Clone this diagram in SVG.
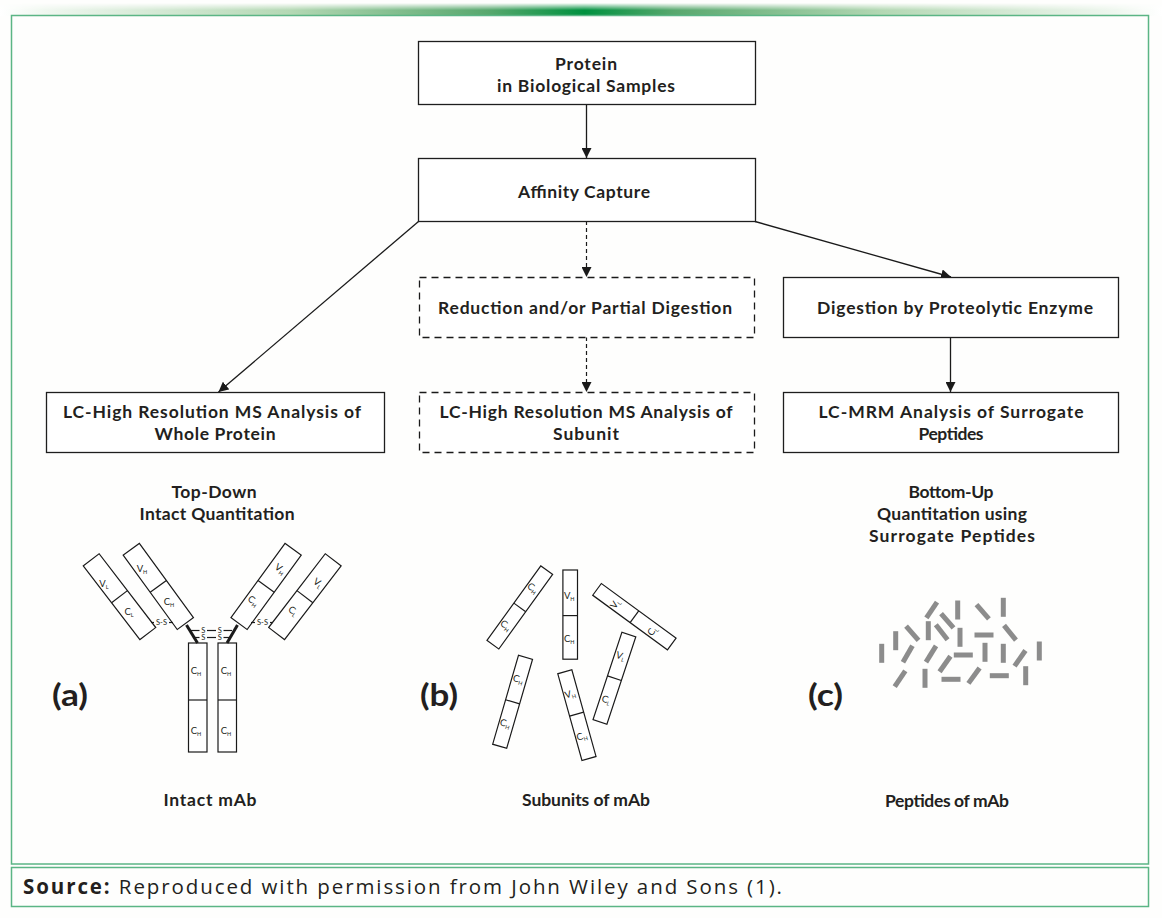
<svg xmlns="http://www.w3.org/2000/svg" width="1162" height="918" viewBox="0 0 1162 918">
<defs>
<style>
.box{fill:#ffffff;stroke:#1e1e1e;stroke-width:1.3}
.dbox{fill:#ffffff;stroke:#1a1a1a;stroke-width:1.3;stroke-dasharray:7 5}
.bt{font-family:Lato,"Open Sans",sans-serif;font-weight:700;font-size:17.5px;fill:#231f20;text-anchor:middle}
.big{font-family:Lato,"Open Sans",sans-serif;font-weight:700;font-size:30px;fill:#231f20}
.con{stroke:#1a1a1a;stroke-width:1.3;fill:none}
.dcon{stroke:#1a1a1a;stroke-width:1.2;fill:none;stroke-dasharray:4 3}
.dom{fill:#ffffff;stroke:#1a1a1a;stroke-width:1.2}
.dl{stroke:#1a1a1a;stroke-width:1.2}
.lab{font-family:Lato,"DejaVu Sans",sans-serif;font-size:9.5px;fill:#231f20;text-anchor:middle}
.sub{font-size:5.5px}
.ss{font-family:Lato,"DejaVu Sans",sans-serif;font-size:7.5px;fill:#231f20;text-anchor:middle}
.pep{fill:#8c8c8c}
.frame{fill:none;stroke:#5bb585;stroke-width:1.5}
</style>
<marker id="ah" viewBox="0 0 10 10" refX="10" refY="5" markerWidth="10" markerHeight="10" markerUnits="userSpaceOnUse" orient="auto">
<path d="M0,0 L10,5 L0,10 z" fill="#1a1a1a"/>
</marker>
<linearGradient id="topbar" x1="0" y1="0" x2="1" y2="0">
<stop offset="0" stop-color="#ffffff"/>
<stop offset="0.04" stop-color="#eff7ef"/>
<stop offset="0.25" stop-color="#b4d8b4"/>
<stop offset="0.42" stop-color="#58a86e"/>
<stop offset="0.503" stop-color="#00913f"/>
<stop offset="0.58" stop-color="#58a86e"/>
<stop offset="0.76" stop-color="#b4d8b4"/>
<stop offset="0.96" stop-color="#eff7ef"/>
<stop offset="1" stop-color="#ffffff"/>
</linearGradient>
<linearGradient id="vfade" x1="0" y1="0" x2="0" y2="1">
<stop offset="0" stop-color="#000000"/>
<stop offset="0.55" stop-color="#ffffff"/>
<stop offset="1" stop-color="#ffffff"/>
</linearGradient>
<mask id="barmask" maskUnits="userSpaceOnUse" x="0" y="0" width="1162" height="20">
<rect x="0" y="3" width="1162" height="13" fill="url(#vfade)"/>
</mask>
</defs>
<rect x="0" y="0" width="1162" height="918" fill="#fefefd"/>
<rect x="0" y="3" width="1162" height="13" fill="url(#topbar)" mask="url(#barmask)"/>
<rect class="frame" x="11.5" y="15.5" width="1137" height="848.5"/>
<rect class="frame" x="11.5" y="867.5" width="1137" height="39"/>

<g id="connectors">
<line class="con" x1="586.5" y1="104" x2="586.5" y2="158" marker-end="url(#ah)"/>
<line class="dcon" x1="586.5" y1="221" x2="586.5" y2="277" marker-end="url(#ah)"/>
<line class="dcon" x1="586.5" y1="337" x2="586.5" y2="392" marker-end="url(#ah)"/>
<line class="con" x1="418.5" y1="221.5" x2="218.5" y2="392" marker-end="url(#ah)"/>
<line class="con" x1="755" y1="221.5" x2="951" y2="277" marker-end="url(#ah)"/>
<line class="con" x1="950.5" y1="337" x2="950.5" y2="392" marker-end="url(#ah)"/>
</g>

<g id="node-protein">
<rect class="box" x="418.5" y="41.5" width="337" height="63"/>
<text class="bt" x="586" y="70" textLength="62" lengthAdjust="spacing">Protein</text>
<text class="bt" x="586" y="92" textLength="178" lengthAdjust="spacing">in Biological Samples</text>
</g>
<g id="node-affinity">
<rect class="box" x="418.5" y="158.5" width="337" height="63"/>
<text class="bt" x="584" y="198" textLength="132" lengthAdjust="spacing">Affinity Capture</text>
</g>
<g id="node-reduction">
<rect class="dbox" x="419.5" y="277.5" width="335" height="60"/>
<text class="bt" x="585" y="314" textLength="294" lengthAdjust="spacing">Reduction and/or Partial Digestion</text>
</g>
<g id="node-subunit-ms">
<rect class="dbox" x="419.5" y="392.5" width="335" height="60"/>
<text class="bt" x="586" y="418" textLength="293" lengthAdjust="spacing">LC-High Resolution MS Analysis of</text>
<text class="bt" x="586" y="440" textLength="66" lengthAdjust="spacing">Subunit</text>
</g>
<g id="node-digestion">
<rect class="box" x="783.5" y="277.5" width="335" height="60"/>
<text class="bt" x="955" y="314" textLength="276" lengthAdjust="spacing">Digestion by Proteolytic Enzyme</text>
</g>
<g id="node-mrm">
<rect class="box" x="783.5" y="392.5" width="335" height="60"/>
<text class="bt" x="951" y="418" textLength="265" lengthAdjust="spacing">LC-MRM Analysis of Surrogate</text>
<text class="bt" x="951" y="440" textLength="65" lengthAdjust="spacing">Peptides</text>
</g>
<g id="node-whole-ms">
<rect class="box" x="46.5" y="392.5" width="338" height="60"/>
<text class="bt" x="212" y="418" textLength="298" lengthAdjust="spacing">LC-High Resolution MS Analysis of</text>
<text class="bt" x="215" y="440" textLength="121" lengthAdjust="spacing">Whole Protein</text>
</g>

<g id="captions">
<text class="bt" x="214" y="498" textLength="85" lengthAdjust="spacing">Top-Down</text>
<text class="bt" x="217" y="520" textLength="155" lengthAdjust="spacing">Intact Quantitation</text>
<text class="bt" x="951" y="498" textLength="85" lengthAdjust="spacing">Bottom-Up</text>
<text class="bt" x="952" y="520" textLength="150" lengthAdjust="spacing">Quantitation using</text>
<text class="bt" x="952" y="542" textLength="166" lengthAdjust="spacing">Surrogate Peptides</text>
<text class="big" x="52" y="706" textLength="36" lengthAdjust="spacingAndGlyphs">(a)</text>
<text class="big" x="420" y="706" textLength="38" lengthAdjust="spacingAndGlyphs">(b)</text>
<text class="big" x="808" y="706" textLength="35" lengthAdjust="spacingAndGlyphs">(c)</text>
<text class="bt" x="210" y="806" textLength="93" lengthAdjust="spacing">Intact mAb</text>
<text class="bt" x="586" y="806" textLength="128" lengthAdjust="spacing">Subunits of mAb</text>
<text class="bt" x="947" y="807" textLength="124" lengthAdjust="spacing">Peptides of mAb</text>
</g>

<g id="intact-mab">
<rect class="dom" x="188.5" y="643" width="18.5" height="109"/>
<line class="dl" x1="188.5" y1="700" x2="207" y2="700"/>
<rect class="dom" x="218" y="643" width="18.5" height="109"/>
<line class="dl" x1="218" y1="700" x2="236.5" y2="700"/>
<text class="lab" x="196" y="674">C<tspan class="sub" dy="2">H</tspan></text>
<text class="lab" x="196" y="734">C<tspan class="sub" dy="2">H</tspan></text>
<text class="lab" x="226" y="674">C<tspan class="sub" dy="2">H</tspan></text>
<text class="lab" x="226" y="734">C<tspan class="sub" dy="2">H</tspan></text>
<line x1="186.5" y1="625" x2="197.5" y2="643" stroke="#1a1a1a" stroke-width="3"/>
<line x1="237.5" y1="625" x2="227" y2="643" stroke="#1a1a1a" stroke-width="3"/>
<line class="dl" x1="191" y1="630.5" x2="199.5" y2="630.5"/>
<line class="dl" x1="207" y1="630.5" x2="216" y2="630.5"/>
<line class="dl" x1="223.5" y1="630.5" x2="232" y2="630.5"/>
<line class="dl" x1="193" y1="637.5" x2="199.5" y2="637.5"/>
<line class="dl" x1="207" y1="637.5" x2="216" y2="637.5"/>
<line class="dl" x1="223.5" y1="637.5" x2="230" y2="637.5"/>
<text class="ss"><tspan x="203.3" y="633.2">S</tspan><tspan x="219.8" y="633.2">S</tspan><tspan x="203.3" y="640.2">S</tspan><tspan x="219.8" y="640.2">S</tspan></text>
<g transform="translate(119.5 596.7) rotate(-37.5)">
<rect class="dom" x="-10" y="-46.5" width="20" height="93"/>
<line class="dl" x1="-10" y1="0" x2="10" y2="0"/>
</g>
<g transform="translate(158.3 586.4) rotate(-36)">
<rect class="dom" x="-10" y="-46" width="20" height="92"/>
<line class="dl" x1="-10" y1="0" x2="10" y2="0"/>
</g>
<text class="lab" x="104" y="587">V<tspan class="sub" dy="2">L</tspan></text>
<text class="lab" x="129" y="615">C<tspan class="sub" dy="2">L</tspan></text>
<text class="lab" x="142" y="572">V<tspan class="sub" dy="2">H</tspan></text>
<text class="lab" x="169" y="605">C<tspan class="sub" dy="2">H</tspan></text>
<line class="dl" x1="151" y1="622.5" x2="154" y2="622.5"/>
<line class="dl" x1="169" y1="622.5" x2="173" y2="622.5"/>
<text class="ss" x="161.5" y="625.2">S-S</text>
<g transform="translate(304.9 596.7) rotate(37.5)">
<rect class="dom" x="-10" y="-46.5" width="20" height="93"/>
<line class="dl" x1="-10" y1="0" x2="10" y2="0"/>
</g>
<g transform="translate(266.1 586.4) rotate(36)">
<rect class="dom" x="-10" y="-46" width="20" height="92"/>
<line class="dl" x1="-10" y1="0" x2="10" y2="0"/>
</g>
<text class="lab" transform="translate(318 583) rotate(36)" x="0" y="3">V<tspan class="sub" dy="2">L</tspan></text>
<text class="lab" transform="translate(293 611) rotate(36)" x="0" y="3">C<tspan class="sub" dy="2">L</tspan></text>
<text class="lab" transform="translate(280 569) rotate(36)" x="0" y="3">V<tspan class="sub" dy="2">H</tspan></text>
<text class="lab" transform="translate(253 601) rotate(36)" x="0" y="3">C<tspan class="sub" dy="2">H</tspan></text>
<line class="dl" x1="251" y1="622.5" x2="255" y2="622.5"/>
<line class="dl" x1="270" y1="622.5" x2="273" y2="622.5"/>
<text class="ss" x="262.5" y="625.2">S-S</text>
</g>

<g id="subunits">
<g transform="translate(519.8 607.4) rotate(35.8)">
<rect class="dom" x="-7.3" y="-46" width="14.6" height="92"/>
<line class="dl" x1="-7.3" y1="0" x2="7.3" y2="0"/>
<text class="lab" x="-1" y="-20">C<tspan class="sub" dy="2">H</tspan></text>
<text class="lab" x="-1" y="26">C<tspan class="sub" dy="2">H</tspan></text>
</g>
<g transform="translate(570.2 614.6)">
<rect class="dom" x="-7.3" y="-44.6" width="14.6" height="89.2"/>
<line class="dl" x1="-7.3" y1="1" x2="7.3" y2="1"/>
<text class="lab" x="-1" y="-16">V<tspan class="sub" dy="2">H</tspan></text>
<text class="lab" x="-1" y="27">C<tspan class="sub" dy="2">H</tspan></text>
</g>
<g transform="translate(634.4 616.7) rotate(-53.8)">
<rect class="dom" x="-7.3" y="-46.3" width="14.6" height="92.6"/>
<line class="dl" x1="-7.3" y1="0" x2="7.3" y2="0"/>
<text class="lab" x="-1" y="-20">V<tspan class="sub" dy="2">L</tspan></text>
<text class="lab" x="-1" y="26">C<tspan class="sub" dy="2">L</tspan></text>
</g>
<g transform="translate(512.6 701.8) rotate(16.2)">
<rect class="dom" x="-7.3" y="-46.3" width="14.6" height="92.6"/>
<line class="dl" x1="-7.3" y1="0" x2="7.3" y2="0"/>
<text class="lab" x="-1" y="-20">C<tspan class="sub" dy="2">H</tspan></text>
<text class="lab" x="-1" y="26">C<tspan class="sub" dy="2">H</tspan></text>
</g>
<g transform="translate(576.9 715.1) rotate(-15.6)">
<rect class="dom" x="-7.3" y="-45" width="14.6" height="90"/>
<line class="dl" x1="-7.3" y1="-1" x2="7.3" y2="-1"/>
<text class="lab" x="-1" y="-19">V<tspan class="sub" dy="2">H</tspan></text>
<text class="lab" x="-1" y="25">C<tspan class="sub" dy="2">H</tspan></text>
</g>
<g transform="translate(614.4 678.2) rotate(18.3)">
<rect class="dom" x="-7.3" y="-46" width="14.6" height="92"/>
<line class="dl" x1="-7.3" y1="0" x2="7.3" y2="0"/>
<text class="lab" x="-1" y="-20">V<tspan class="sub" dy="2">L</tspan></text>
<text class="lab" x="-1" y="26">C<tspan class="sub" dy="2">L</tspan></text>
</g>
</g>

<g id="peptides">
<rect class="pep" x="-2.5" y="-9.5" width="5" height="19" transform="translate(931.7 610) rotate(34)"/>
<rect class="pep" x="-2.5" y="-9.5" width="5" height="19" transform="translate(957.7 610)"/>
<rect class="pep" x="-2.5" y="-9.5" width="5" height="19" transform="translate(982.7 611.7) rotate(-41)"/>
<rect class="pep" x="-2.5" y="-9.5" width="5" height="19" transform="translate(1003.3 607.3)"/>
<rect class="pep" x="-2.5" y="-9.5" width="5" height="19" transform="translate(947.3 620.7) rotate(-41)"/>
<rect class="pep" x="-2.5" y="-9.5" width="5" height="19" transform="translate(912.3 633.3) rotate(-41)"/>
<rect class="pep" x="-2.5" y="-9.5" width="5" height="19" transform="translate(928.3 630.7)"/>
<rect class="pep" x="-2.5" y="-9.5" width="5" height="19" transform="translate(941.7 632.3) rotate(-38)"/>
<rect class="pep" x="-2.5" y="-9.5" width="5" height="19" transform="translate(960 637.3)"/>
<rect class="pep" x="-2.5" y="-9.5" width="5" height="19" transform="translate(984 635) rotate(90)"/>
<rect class="pep" x="-2.5" y="-9.5" width="5" height="19" transform="translate(1010 632.7) rotate(-39)"/>
<rect class="pep" x="-2.5" y="-9.5" width="5" height="19" transform="translate(895.7 640.7)"/>
<rect class="pep" x="-2.5" y="-9.5" width="5" height="19" transform="translate(881.7 653.3)"/>
<rect class="pep" x="-2.5" y="-9.5" width="5" height="19" transform="translate(907.7 654) rotate(30)"/>
<rect class="pep" x="-2.5" y="-9.5" width="5" height="19" transform="translate(931 654) rotate(32)"/>
<rect class="pep" x="-2.5" y="-9.5" width="5" height="19" transform="translate(963.3 655) rotate(90)"/>
<rect class="pep" x="-2.5" y="-9.5" width="5" height="19" transform="translate(985 652.3)"/>
<rect class="pep" x="-2.5" y="-9.5" width="5" height="19" transform="translate(1003.3 653.3)"/>
<rect class="pep" x="-2.5" y="-9.5" width="5" height="19" transform="translate(1020 658.3) rotate(35)"/>
<rect class="pep" x="-2.5" y="-9.5" width="5" height="19" transform="translate(1039.3 651)"/>
<rect class="pep" x="-2.5" y="-9.5" width="5" height="19" transform="translate(945 664) rotate(35)"/>
<rect class="pep" x="-2.5" y="-9.5" width="5" height="19" transform="translate(900 678.7) rotate(34)"/>
<rect class="pep" x="-2.5" y="-9.5" width="5" height="19" transform="translate(925 678.3)"/>
<rect class="pep" x="-2.5" y="-9.5" width="5" height="19" transform="translate(951 679.3) rotate(90)"/>
<rect class="pep" x="-2.5" y="-9.5" width="5" height="19" transform="translate(974 675.7) rotate(36)"/>
<rect class="pep" x="-2.5" y="-9.5" width="5" height="19" transform="translate(999.3 675.7) rotate(90)"/>
<rect class="pep" x="-2.5" y="-9.5" width="5" height="19" transform="translate(1025.7 675.7)"/>
</g>

<g id="source">
<text x="23" y="894" font-family="'Open Sans',Lato,sans-serif" font-size="20.5px" fill="#231f20" textLength="759" lengthAdjust="spacing"><tspan font-weight="700">Source:</tspan> Reproduced with permission from John Wiley and Sons (1).</text>
</g>
</svg>
